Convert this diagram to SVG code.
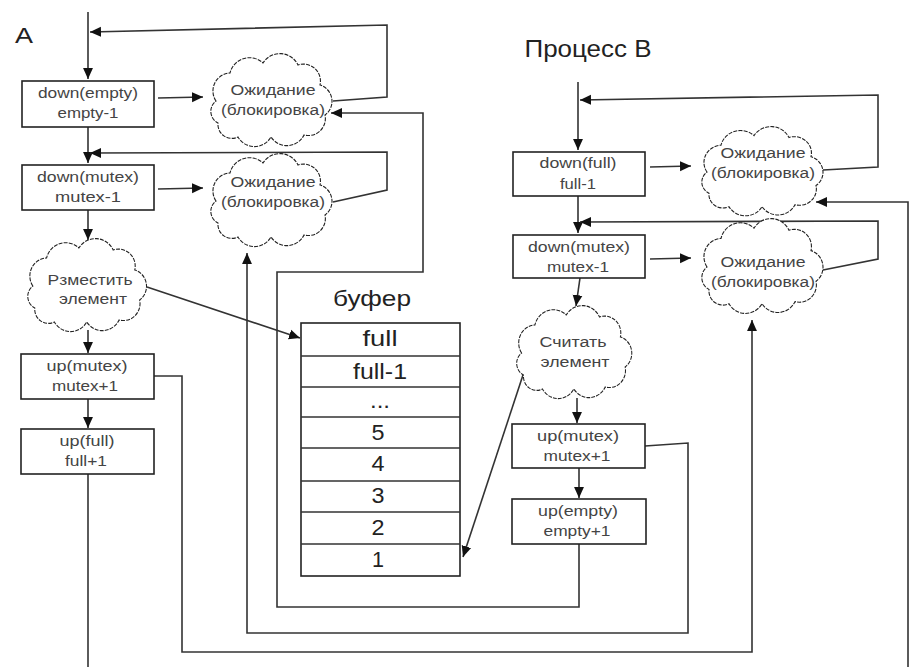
<svg xmlns="http://www.w3.org/2000/svg" xmlns:xlink="http://www.w3.org/1999/xlink" width="909" height="667" viewBox="0 0 909 667">
<style>
.bx{fill:#fff;stroke:#222;stroke-width:1.6}
.cl{fill:#fff;stroke:#222;stroke-width:1.1;stroke-dasharray:4 1.2}
.ln{fill:none;stroke:#333;stroke-width:1.6}
.t{font-family:"Liberation Sans",Arial,sans-serif;font-size:15.5px;fill:#444;text-anchor:middle}
.tb{font-family:"Liberation Sans",Arial,sans-serif;font-size:22px;fill:#222;text-anchor:middle}
</style>
<defs>
<marker id="ah" viewBox="0 0 10 10" refX="10" refY="5" markerWidth="11" markerHeight="11" markerUnits="userSpaceOnUse" orient="auto">
<path d="M0,0.5 L10,5 L0,9.5 z" fill="#111"/>
</marker>
<path id="cloud" d="M8 48 A18 18 0 0 1 22 20 A20 20 0 0 1 55 10 A20 20 0 0 1 90 12 A17 17 0 0 1 112 32 A17 17 0 0 1 117 62 A17 17 0 0 1 96 82 A19 19 0 0 1 63 84 A19 19 0 0 1 30 84 A14 14 0 0 1 10 70 A13 13 0 0 1 8 48 Z"/>
</defs>
<rect width="909" height="667" fill="#fff"/>

<text class="tb" x="24" y="43" textLength="18" lengthAdjust="spacingAndGlyphs">A</text>
<text class="tb" x="588" y="57" textLength="127" lengthAdjust="spacingAndGlyphs" style="font-size:23px">Процесс В</text>

<g id="connectors">
<path class="ln" d="M88 12 V79" marker-end="url(#ah)"/>
<path class="ln" d="M333 101 L387 97 V25 L90 32" marker-end="url(#ah)"/>
<path class="ln" d="M158 98 L203 97" marker-end="url(#ah)"/>
<path class="ln" d="M88 127 V163" marker-end="url(#ah)"/>
<path class="ln" d="M333 202 L387 190 V152 L90 153" marker-end="url(#ah)"/>
<path class="ln" d="M158 189 L203 188" marker-end="url(#ah)"/>
<path class="ln" d="M88 210 V240" marker-end="url(#ah)"/>
<path class="ln" d="M147 287 L300 338" marker-end="url(#ah)"/>
<path class="ln" d="M88 330 V353" marker-end="url(#ah)"/>
<path class="ln" d="M88 399 V428" marker-end="url(#ah)"/>
<path class="ln" d="M88 474 V667"/>
<path class="ln" d="M154 376 H182 V652 H752 V320" marker-end="url(#ah)"/>
<path class="ln" d="M645 446 L688 443 V633 H247 V253" marker-end="url(#ah)"/>
<path class="ln" d="M579 544 V607 H277 V272 H423 V113 H331" marker-end="url(#ah)"/>
<path class="ln" d="M578 82 V150" marker-end="url(#ah)"/>
<path class="ln" d="M823 170 L878 167 V95 L580 100" marker-end="url(#ah)"/>
<path class="ln" d="M650 167 L691 166" marker-end="url(#ah)"/>
<path class="ln" d="M578 196 V233" marker-end="url(#ah)"/>
<path class="ln" d="M823 270 L878 259 V221 L580 222" marker-end="url(#ah)"/>
<path class="ln" d="M650 259 L691 258" marker-end="url(#ah)"/>
<path class="ln" d="M580 278 L576 306" marker-end="url(#ah)"/>
<path class="ln" d="M523 375 L463 557" marker-end="url(#ah)"/>
<path class="ln" d="M577 398 V423" marker-end="url(#ah)"/>
<path class="ln" d="M579 468 V498" marker-end="url(#ah)"/>
<path class="ln" d="M908 667 V202 H816" marker-end="url(#ah)"/>
</g>

<g id="a-down-empty">
<rect class="bx" x="22" y="81" width="132" height="46"/>
<text class="t" x="88" y="98" textLength="100" lengthAdjust="spacingAndGlyphs">down(empty)</text>
<text class="t" x="88" y="118" textLength="61" lengthAdjust="spacingAndGlyphs">empty-1</text>
</g>
<g id="a-wait-empty">
<use xlink:href="#cloud" class="cl" transform="translate(208,53)"/>
<text class="t" x="273" y="95" textLength="85" lengthAdjust="spacingAndGlyphs">Ожидание</text>
<text class="t" x="273" y="115" textLength="104" lengthAdjust="spacingAndGlyphs">(блокировка)</text>
</g>
<g id="a-down-mutex">
<rect class="bx" x="22" y="165" width="132" height="45"/>
<text class="t" x="88" y="182" textLength="102" lengthAdjust="spacingAndGlyphs">down(mutex)</text>
<text class="t" x="88" y="202" textLength="66" lengthAdjust="spacingAndGlyphs">mutex-1</text>
</g>
<g id="a-wait-mutex">
<use xlink:href="#cloud" class="cl" transform="translate(208,153)"/>
<text class="t" x="273" y="187" textLength="85" lengthAdjust="spacingAndGlyphs">Ожидание</text>
<text class="t" x="273" y="207" textLength="104" lengthAdjust="spacingAndGlyphs">(блокировка)</text>
</g>
<g id="a-put">
<use xlink:href="#cloud" class="cl" transform="translate(25,238) scale(0.98,1)"/>
<text class="t" x="90" y="285" textLength="85" lengthAdjust="spacingAndGlyphs">Рзместить</text>
<text class="t" x="93" y="304" textLength="68" lengthAdjust="spacingAndGlyphs">элемент</text>
</g>
<g id="a-up-mutex">
<rect class="bx" x="21" y="354" width="133" height="45"/>
<text class="t" x="87" y="371" textLength="81" lengthAdjust="spacingAndGlyphs">up(mutex)</text>
<text class="t" x="85" y="391" textLength="66" lengthAdjust="spacingAndGlyphs">mutex+1</text>
</g>
<g id="a-up-full">
<rect class="bx" x="21" y="429" width="133" height="45"/>
<text class="t" x="87" y="446" textLength="55" lengthAdjust="spacingAndGlyphs">up(full)</text>
<text class="t" x="86" y="466" textLength="42" lengthAdjust="spacingAndGlyphs">full+1</text>
</g>

<g id="buffer">
<text class="tb" x="372" y="306" textLength="78" lengthAdjust="spacingAndGlyphs">буфер</text>
<rect class="bx" x="301" y="323" width="159" height="253"/>
<path class="ln" d="M301 356 H460 M301 387 H460 M301 417 H460 M301 448 H460 M301 481 H460 M301 512 H460 M301 544 H460"/>
<text class="tb" x="380" y="346" textLength="35" lengthAdjust="spacingAndGlyphs">full</text>
<text class="tb" x="380" y="379" textLength="54" lengthAdjust="spacingAndGlyphs">full-1</text>
<text class="tb" x="380" y="408" textLength="20" lengthAdjust="spacingAndGlyphs">...</text>
<text class="tb" x="378" y="440" textLength="13" lengthAdjust="spacingAndGlyphs">5</text>
<text class="tb" x="378" y="471" textLength="13" lengthAdjust="spacingAndGlyphs">4</text>
<text class="tb" x="378" y="503" textLength="13" lengthAdjust="spacingAndGlyphs">3</text>
<text class="tb" x="378" y="535" textLength="13" lengthAdjust="spacingAndGlyphs">2</text>
<text class="tb" x="378" y="567" textLength="12" lengthAdjust="spacingAndGlyphs">1</text>
</g>

<g id="b-down-full">
<rect class="bx" x="513" y="152" width="132" height="44"/>
<text class="t" x="578" y="168" textLength="77" lengthAdjust="spacingAndGlyphs">down(full)</text>
<text class="t" x="578" y="189" textLength="36" lengthAdjust="spacingAndGlyphs">full-1</text>
</g>
<g id="b-wait-full">
<use xlink:href="#cloud" class="cl" transform="translate(699,126) scale(1,0.96)"/>
<text class="t" x="763" y="158" textLength="85" lengthAdjust="spacingAndGlyphs">Ожидание</text>
<text class="t" x="763" y="178" textLength="104" lengthAdjust="spacingAndGlyphs">(блокировка)</text>
</g>
<g id="b-down-mutex">
<rect class="bx" x="513" y="235" width="132" height="43"/>
<text class="t" x="579" y="252" textLength="102" lengthAdjust="spacingAndGlyphs">down(mutex)</text>
<text class="t" x="578" y="272" textLength="62" lengthAdjust="spacingAndGlyphs">mutex-1</text>
</g>
<g id="b-wait-mutex">
<use xlink:href="#cloud" class="cl" transform="translate(699,218) scale(1,1.02)"/>
<text class="t" x="763" y="267" textLength="85" lengthAdjust="spacingAndGlyphs">Ожидание</text>
<text class="t" x="763" y="287" textLength="104" lengthAdjust="spacingAndGlyphs">(блокировка)</text>
</g>
<g id="b-read">
<use xlink:href="#cloud" class="cl" transform="translate(514,305) scale(0.95,1)"/>
<text class="t" x="573" y="347" textLength="67" lengthAdjust="spacingAndGlyphs">Считать</text>
<text class="t" x="575" y="367" textLength="69" lengthAdjust="spacingAndGlyphs">элемент</text>
</g>
<g id="b-up-mutex">
<rect class="bx" x="512" y="424" width="133" height="44"/>
<text class="t" x="578" y="441" textLength="82" lengthAdjust="spacingAndGlyphs">up(mutex)</text>
<text class="t" x="577" y="461" textLength="67" lengthAdjust="spacingAndGlyphs">mutex+1</text>
</g>
<g id="b-up-empty">
<rect class="bx" x="512" y="499" width="134" height="45"/>
<text class="t" x="578" y="516" textLength="80" lengthAdjust="spacingAndGlyphs">up(empty)</text>
<text class="t" x="577" y="536" textLength="67" lengthAdjust="spacingAndGlyphs">empty+1</text>
</g>
</svg>
